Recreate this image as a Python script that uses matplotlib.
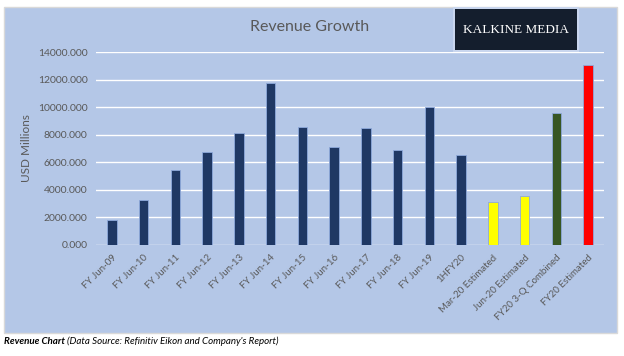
import matplotlib
matplotlib.use("Agg")
import matplotlib.pyplot as plt
from matplotlib.patches import Rectangle

# data
periods = ["FY Jun-09", "FY Jun-10", "FY Jun-11", "FY Jun-12", "FY Jun-13", "FY Jun-14",
           "FY Jun-15", "FY Jun-16", "FY Jun-17", "FY Jun-18", "FY Jun-19", "1HFY20",
           "Mar-20 Estimated", "Jun-20 Estimated", "FY20 3-Q Combined", "FY20 Estimated"]
revenue = [1800, 3275, 5410, 6720, 8125, 11745, 8590, 7110, 8470, 6910, 10000, 6505,
           3085, 3545, 9585, 13100]
bar_colors = ["#1F3864"] * 12 + ["#FFFF00", "#FFFF00", "#375623", "#FF0000"]
yticks = [0, 2000, 4000, 6000, 8000, 10000, 12000, 14000]

plt.rcParams['font.family'] = ['Lato', 'DejaVu Sans']

fig = plt.figure(figsize=(6.24, 3.56), dpi=100)
W, H = 624, 356

# light blue chart panel
fig.patches.append(Rectangle((4 / W, 1 - 333 / H), 613 / W, 326 / H, transform=fig.transFigure,
                             facecolor="#B4C7E7", edgecolor="#D9D9D9", linewidth=1, zorder=-10))

ax = fig.add_axes([96 / W, 1 - 244.7 / H, 508 / W, 192.4 / H])
ax.set_zorder(5)
ax.set_facecolor("none")
x = range(len(periods))
ax.bar(x, revenue, width=0.3, color=bar_colors, edgecolor="#8EA9DB", linewidth=0.6, zorder=3)

ax.set_xlim(-0.5, len(periods) - 0.5)
ax.set_ylim(0, 14000)
ax.set_yticks(yticks)
ax.set_yticklabels([f"{v:.3f}" for v in yticks], fontsize=7.5, color="#595959")
ax.set_xticks(list(x))
ax.set_xticklabels(periods, rotation=45, ha="right", rotation_mode="anchor",
                   fontsize=7, color="#595959")
ax.tick_params(length=0, pad=6)
ax.grid(axis="y", color="white", linewidth=1, zorder=0)
for s in ax.spines.values():
    s.set_visible(False)
ax.set_ylabel("USD Millions", fontsize=8.5, color="#595959", labelpad=4)

fig.text(310 / W, 1 - 27 / H, "Revenue Growth", ha="center", va="center",
         fontsize=11.5, color="#595959")

# logo box
fig.patches.append(Rectangle((453 / W, 1 - 52 / H), 126 / W, 45 / H, transform=fig.transFigure,
                             facecolor="#C9D6EE", edgecolor="none", zorder=1))
fig.patches.append(Rectangle((455 / W, 1 - 50 / H), 122 / W, 41 / H, transform=fig.transFigure,
                             facecolor="#141E2D", edgecolor="none", zorder=2))
fig.text(516 / W, 1 - 30 / H, "KALKINE MEDIA", ha="center", va="center", fontsize=9.5,
         color="white", family="Liberation Serif", zorder=3)

cap = fig.text(4 / W, 1 - 341 / H, "Revenue Chart ", fontsize=7, style="italic",
               weight="bold", va="center", ha="left")
fig.canvas.draw()
bb = cap.get_window_extent()
fig.text(bb.x1 / W, 1 - 341 / H, "(Data Source: Refinitiv Eikon and Company's Report)",
         fontsize=7, style="italic", va="center", ha="left")

fig.savefig("out.png", dpi=100, facecolor="white")
